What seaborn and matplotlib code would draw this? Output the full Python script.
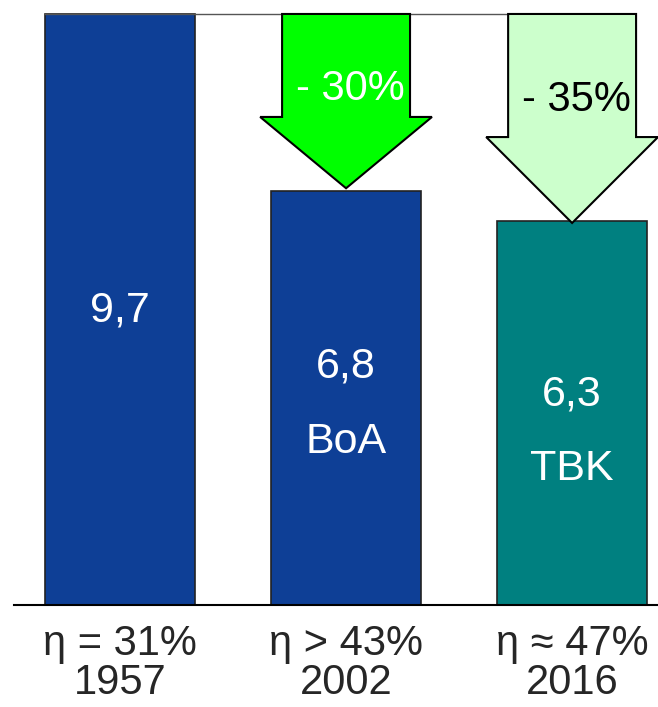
import matplotlib
matplotlib.use("Agg")
import matplotlib.pyplot as plt
import seaborn as sns
from matplotlib.patches import Polygon

# --------------------------------------
# DATA
# --------------------------------------
years = ["1957", "2002", "2016"]
efficiency = ["η = 31%", "η > 43%", "η ≈ 47%"]
values = [9.7, 6.8, 6.3]
value_labels = ["9,7", "6,8", "6,3"]
plant_names = ["", "BoA", "TBK"]
reductions = ["- 30%", "- 35%"]

# --------------------------------------
# STYLE
# --------------------------------------
BAR_COLORS = ["#0E3F96", "#0E3F96", "#008080"]
ARROW_COLORS = ["#00FF00", "#CCFFCC"]
ARROW_TEXT = ["white", "black"]
FONT = "Liberation Sans"

sns.set_style("white")
plt.rcParams["font.family"] = [FONT, "DejaVu Sans"]

fig = plt.figure(figsize=(6.58, 7.07), dpi=100)
ax = fig.add_axes([14 / 658, 102 / 707, 644 / 658, 605 / 707])

sns.barplot(x=years, y=values, hue=years, palette=BAR_COLORS, legend=False,
            width=0.664, edgecolor="#222222", linewidth=1.2, saturation=1, ax=ax)

ax.set_xlim(-0.469, 2.38)
ax.set_ylim(0, 605 / 60.93)

# thin reference line at the 1957 level
ax.hlines(values[0], -0.336, 2.283, color="#555555", lw=1.0, zorder=1)

# reduction arrows from the 1957 level down to each later bar
shaft_half = 0.283
head_half = 0.38
head_len = [1.17, 1.41]
for i, (lab, col, tcol) in enumerate(zip(reductions, ARROW_COLORS, ARROW_TEXT)):
    xc = i + 1
    tip = values[i + 1] + (0.04 if i == 0 else -0.03)
    neck = tip + head_len[i]
    pts = [(xc - shaft_half, values[0]), (xc + shaft_half, values[0]),
           (xc + shaft_half, neck), (xc + head_half, neck), (xc, tip),
           (xc - head_half, neck), (xc - shaft_half, neck)]
    ax.add_patch(Polygon(pts, closed=True, facecolor=col, edgecolor="black",
                         lw=1.5, zorder=3, clip_on=False))
    ax.text(xc + 0.02, neck + (0.28 if i == 0 else 0.43), lab, color=tcol,
            fontsize=30, ha="center", va="baseline", zorder=4)

# values and plant names inside the bars
val_base = [4.645, 3.74, 3.28]
name_base = [0, 2.49, 2.05]
for i in range(3):
    ax.text(i, val_base[i], value_labels[i], color="white", fontsize=31,
            ha="center", va="baseline")
    if plant_names[i]:
        ax.text(i, name_base[i], plant_names[i], color="white", fontsize=31,
                ha="center", va="baseline")

# category labels under the axis
tr = ax.get_xaxis_transform()
for i in range(3):
    ax.text(i, -0.0826, efficiency[i], transform=tr, fontsize=30,
            ha="center", va="baseline")
    ax.text(i, -0.147, years[i], transform=tr, fontsize=30,
            ha="center", va="baseline")

ax.set_xticks([])
ax.set_yticks([])
ax.set_xlabel("")
ax.set_ylabel("")
for s in ["left", "right", "top"]:
    ax.spines[s].set_visible(False)
ax.spines["bottom"].set_color("black")
ax.spines["bottom"].set_linewidth(1.5)

fig.savefig("out.png", dpi=100)
